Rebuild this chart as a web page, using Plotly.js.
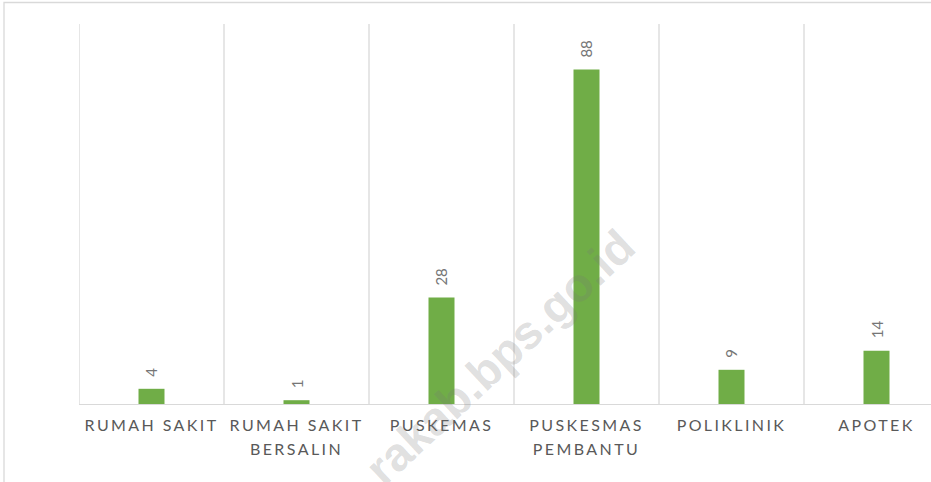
<!DOCTYPE html>
<html>
<head>
<meta charset="utf-8">
<script src="https://cdn.plot.ly/plotly-3.0.1.min.js"></script>
<style>
  html, body { margin: 0; padding: 0; background: #ffffff; }
  #chart { width: 931px; height: 482px; }
  .xtick text { letter-spacing: 2.4px; }
</style>
</head>
<body>
<div id="chart"></div>
<script>
// ---- data ----
const categories = ["RUMAH SAKIT", "RUMAH SAKIT BERSALIN", "PUSKEMAS", "PUSKESMAS PEMBANTU", "POLIKLINIK", "APOTEK"];
const tickLabels = ["RUMAH SAKIT", "RUMAH SAKIT<br>BERSALIN", "PUSKEMAS", "PUSKESMAS<br>PEMBANTU", "POLIKLINIK", "APOTEK"];
const values = [4, 1, 28, 88, 9, 14];
const watermarkText = "rakab.bps.go.id";

const W = 931, H = 482;
const ml = 79, mr = 0, mt = 24, mb = 78;
const catPx = 145;
const plotW = W - ml - mr;
const plotH = H - mt - mb;
const xMax = -0.5 + plotW / catPx;

const gridColor = "#d9d9d9";
const shapes = [];
for (let i = 0; i <= categories.length; i++) {
  shapes.push({
    type: "line", layer: "below",
    xref: "x", yref: "y domain",
    x0: i - 0.5, x1: i - 0.5, y0: 0, y1: 1,
    line: { color: gridColor, width: 1.3 }
  });
}
// outer chart frame (partly cropped in the picture)
shapes.push({
  type: "rect", layer: "below",
  xref: "paper", yref: "paper",
  x0: (4 - ml) / plotW, x1: 1.2,
  y0: -0.5, y1: 1 + (mt - 2.5) / plotH,
  line: { color: "#d9d9d9", width: 1.3 }, fillcolor: "rgba(0,0,0,0)"
});

const trace = {
  type: "bar",
  x: categories,
  y: values,
  marker: { color: "#70ad47" },
  hoverinfo: "skip"
};

const labelAnnotations = categories.map((c, i) => ({
  xref: "x", yref: "y",
  x: c, y: values[i],
  text: String(values[i]),
  showarrow: false,
  textangle: -90,
  xanchor: "center",
  yanchor: "bottom",
  yshift: 10,
  font: { family: "Lato, 'Open Sans', sans-serif", size: 15, color: "#767676" }
}));

const layout = {
  width: W, height: H,
  margin: { l: ml, r: mr, t: mt, b: mb, pad: 0 },
  paper_bgcolor: "#ffffff",
  plot_bgcolor: "#ffffff",
  bargap: 1 - 26 / catPx,
  showlegend: false,
  xaxis: {
    type: "category",
    range: [-0.5, xMax],
    tickvals: categories,
    ticktext: tickLabels,
    showgrid: false,
    showline: true,
    linecolor: gridColor,
    linewidth: 1.3,
    ticks: "outside",
    ticklen: 6,
    tickcolor: "rgba(0,0,0,0)",
    tickfont: { family: "Lato, 'Open Sans', sans-serif", size: 16, color: "#595959" },
    tickangle: 0,
    zeroline: false,
    fixedrange: true
  },
  yaxis: {
    range: [0, 100],
    showgrid: false,
    showticklabels: false,
    showline: false,
    zeroline: false,
    ticks: "",
    fixedrange: true
  },
  shapes: shapes,
  annotations: labelAnnotations.concat([{
    xref: "paper", yref: "paper",
    x: (499 - ml) / plotW,
    y: 1 - (357 - mt) / plotH,
    xanchor: "center",
    yanchor: "middle",
    text: "<b>" + watermarkText + "</b>",
    showarrow: false,
    textangle: -43,
    font: { family: "'Liberation Sans', Arial, sans-serif", size: 47, color: "rgba(120,120,120,0.24)" }
  }])
};

Plotly.newPlot("chart", [trace], layout, { displayModeBar: false, staticPlot: true }).then(() => {
  document.querySelectorAll(".xtick text tspan.line").forEach((t) => {
    const dy = t.getAttribute("dy");
    if (dy && parseFloat(dy) > 0) t.setAttribute("dy", "1.55em");
  });
});
</script>
</body>
</html>
